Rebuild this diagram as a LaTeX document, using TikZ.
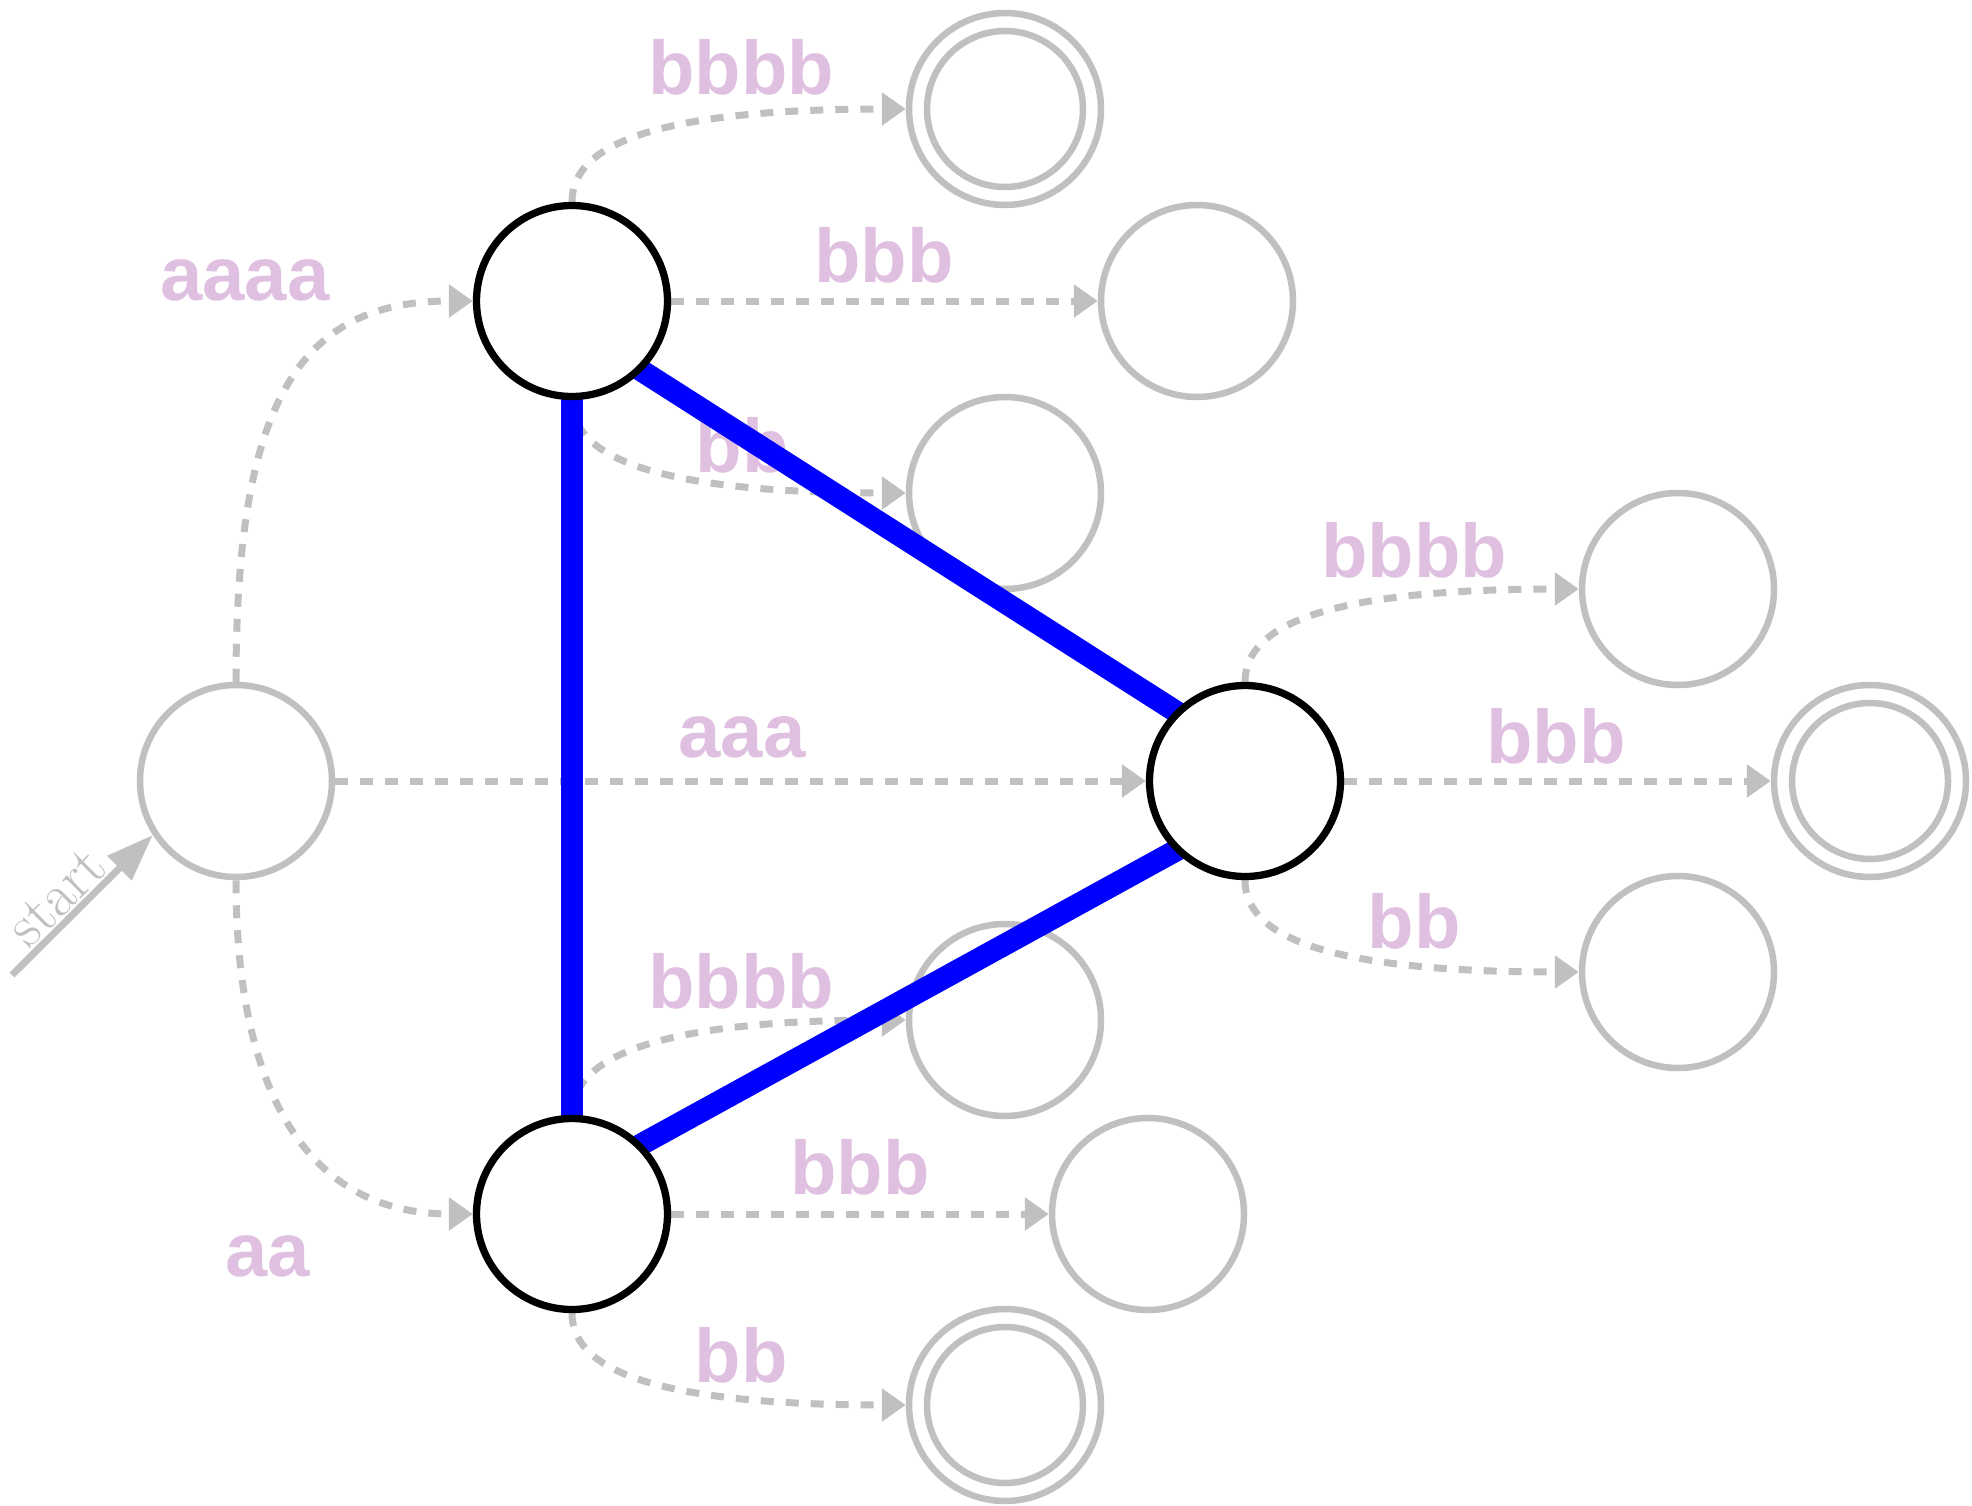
\documentclass[tikz,border=0pt]{standalone}
\usepackage{fontspec}
\newfontfamily\lblfont{Liberation Sans}
\usetikzlibrary{arrows.meta}
\definecolor{edgegray}{RGB}{192,192,192}
\definecolor{lblpink}{RGB}{224,192,224}
\definecolor{pathblue}{RGB}{0,0,255}
\pgfdeclarelayer{bluelayer}
\pgfdeclarelayer{toplayer}
\pgfsetlayers{main,bluelayer,toplayer}
\begin{document}
\begin{tikzpicture}[x=1pt,y=-1pt,
  state/.style={circle, draw=edgegray, line width=6.5pt, minimum size=192pt, inner sep=0pt, fill=white},
  hot/.style={circle, draw=black, line width=7.3pt, minimum size=191pt, inner sep=0pt, fill=white},
  ring/.style={draw=edgegray, line width=6.5pt},
  trans/.style={draw=edgegray, line width=7pt, dash pattern=on 13pt off 12pt, -{Triangle[length=24pt,width=32pt]}},
  lbl/.style={text=lblpink, font=\lblfont\bfseries\fontsize{76}{76}\selectfont, inner sep=0pt},
  pathedge/.style={draw=pathblue, line width=22pt, shorten <=-12pt, shorten >=-12pt}]
\useasboundingbox (0,0) rectangle (1972,1506);

% highlighted states
\begin{pgfonlayer}{toplayer}
\node[hot] (A) at (572,301) {};
\node[hot] (B) at (572,1214) {};
\node[hot] (C) at (1245,781) {};
\end{pgfonlayer}

% gray states
\node[state] (S) at (236,781) {};
\node[state] (T1) at (1005,109) {};
\node[state] (T2) at (1197,301) {};
\node[state] (T3) at (1005,493) {};
\node[state] (R1) at (1678,589) {};
\node[state] (R2) at (1870,781) {};
\node[state] (R3) at (1678,972) {};
\node[state] (U1) at (1005,1020) {};
\node[state] (U2) at (1148,1214) {};
\node[state] (U3) at (1005,1405) {};
\draw[ring] (T1.center) circle[radius=78pt];
\draw[ring] (R2.center) circle[radius=78pt];
\draw[ring] (U3.center) circle[radius=78pt];

% start arrow
\coordinate (st0) at (12,975);
\draw[edgegray, line width=7pt, -{Triangle[length=47pt,width=33pt]}] (st0) -- (S.213);
\node[text=edgegray, rotate=45, inner sep=0pt, font=\fontsize{60}{60}\selectfont] (startlbl) at (57,897) {start};

% transitions
\draw[trans] (S.north) .. controls (236,400) and (300,301) .. (A.west);
\draw[trans] (S.south) .. controls (236,1080) and (300,1214) .. (B.west);
\draw[trans] (S.east) -- (C.west);
\draw[trans] (A.north) .. controls (572,150) and (640,109) .. (T1.west);
\draw[trans] (A.east) -- (T2.west);
\draw[trans] (A.south) .. controls (572,452) and (640,493) .. (T3.west);
\draw[trans] (C.north) .. controls (1245,630) and (1313,589) .. (R1.west);
\draw[trans] (C.east) -- (R2.west);
\draw[trans] (C.south) .. controls (1245,932) and (1313,972) .. (R3.west);
\draw[trans] (B.north) .. controls (572,1063) and (640,1020) .. (U1.west);
\draw[trans] (B.east) -- (U2.west);
\draw[trans] (B.south) .. controls (572,1365) and (640,1405) .. (U3.west);

% labels
\node[lbl] (l1) at (245,280) {aaaa};
\node[lbl] (l2) at (742,737) {aaa};
\node[lbl] (l3) at (268,1256) {aa};
\node[lbl] (l4) at (741,67) {bbbb};
\node[lbl] (l5) at (884,255) {bbb};
\node[lbl] (l6) at (742,445) {bb};
\node[lbl] (l7) at (1414,550) {bbbb};
\node[lbl] (l8) at (1556,736) {bbb};
\node[lbl] (l9) at (1414,921) {bb};
\node[lbl] (l10) at (741,981) {bbbb};
\node[lbl] (l11) at (860,1167) {bbb};
\node[lbl] (l12) at (741,1355) {bb};

% highlighted path
\begin{pgfonlayer}{bluelayer}
\draw[pathedge] (A.south) -- (B.north);
\draw[pathedge] (A.-45) -- (C.135);
\draw[pathedge] (B.45) -- (C.-135);
\end{pgfonlayer}
\end{tikzpicture}
\end{document}
